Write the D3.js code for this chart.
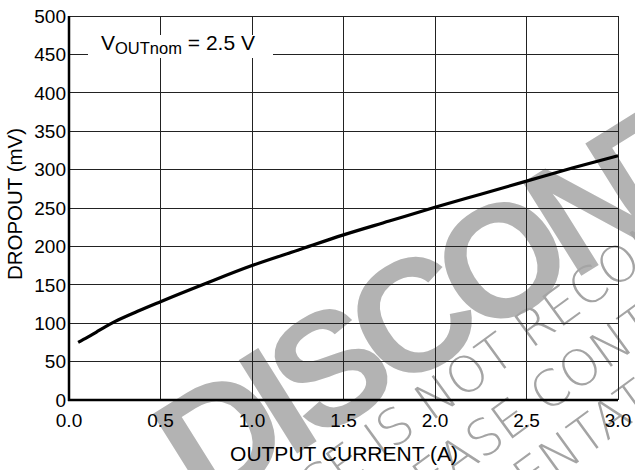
<!doctype html>
<html>
<head>
  <meta charset="utf-8">
  <title>Dropout vs Output Current</title>
  <style>
  body{
    margin: 0;
    background: #fff;
    font-family: "Liberation Sans", Arial, Helvetica, sans-serif;
  }
  svg text{
    font-family: "Liberation Sans", Arial, Helvetica, sans-serif;
  }
  svg text.note{
    font-family: "DejaVu Sans", sans-serif;
    font-weight: 200;
  }
  </style>
</head>
<body>
  <svg id="chart"></svg>

  <script src="https://d3js.org/d3.v7.min.js"></script>
  <script>
  var width = 635;
  var height = 470;
  var margin = { top: 16, right: 17, bottom: 70, left: 69 };

  var currentA  = [0.05, 0.1, 0.15, 0.2, 0.25, 0.375, 0.5, 0.75, 1.0, 1.25, 1.5, 1.75, 2.0, 2.25, 2.5, 2.75, 3.0];
  var dropoutMv = [75, 81.5, 88.5, 95.5, 102, 115.5, 128, 152, 175, 195, 215, 233, 251, 268, 285, 302, 318];

  var xTicks = [0, 0.5, 1.0, 1.5, 2.0, 2.5, 3.0];
  var yTicks = [0, 50, 100, 150, 200, 250, 300, 350, 400, 450, 500];

  var xTitle = 'OUTPUT CURRENT (A)';
  var yTitle = 'DROPOUT (mV)';
  var watermark = 'DISCONTINUED';
  var noteLines = [
    'THIS DEVICE IS NOT RECOMMENDED FOR NEW DESIGN',
    'PLEASE CONTACT YOUR ON SEMICONDUCTOR',
    'REPRESENTATIVE FOR INFORMATION'
  ];

  var svg = d3.select('#chart')
    .attr('width', width)
    .attr('height', height);

  var x = d3.scaleLinear().domain([0, 3]).range([margin.left, width - margin.right]);
  var y = d3.scaleLinear().domain([0, 500]).range([height - margin.bottom, margin.top]);

  // watermark behind everything
  var wm = svg.append('g');
  wm.append('text')
    .attr('transform', 'translate(202,513) rotate(-32)')
    .attr('font-size', 160)
    .attr('font-weight', 'bold')
    .attr('letter-spacing', -14)
    .attr('fill', '#b3b3b3')
    .text(watermark);

  // put the char at idx on (px,py)
  function noteLine(str, idx, px, py){
    var t = wm.append('text')
      .attr('class', 'note')
      .attr('font-size', 50)
      .attr('fill', '#a4a4a4')
      .text(str);
    var p = t.node().getStartPositionOfChar(idx);
    t.attr('x', -p.x)
      .attr('transform', 'translate(' + px + ',' + py + ') rotate(-36)');
  }
  noteLine(noteLines[0], noteLines[0].indexOf('NOT'), 431, 422);
  noteLine(noteLines[1], noteLines[1].indexOf('CONTACT'), 546, 414);
  noteLine(noteLines[2], noteLines[2].indexOf('NTATIVE'), 555, 479);

  // grid
  var grid = svg.append('g').attr('stroke', '#222').attr('stroke-width', 1).attr('shape-rendering', 'crispEdges');
  grid.selectAll('.vx').data(xTicks.slice(1)).enter().append('line')
    .attr('x1', function(d){ return x(d); })
    .attr('x2', function(d){ return x(d); })
    .attr('y1', y(0))
    .attr('y2', y(500));
  grid.selectAll('.hy').data(yTicks.slice(1)).enter().append('line')
    .attr('x1', x(0))
    .attr('x2', x(3))
    .attr('y1', function(d){ return y(d); })
    .attr('y2', function(d){ return y(d); });

  // legend label with white box
  svg.append('rect')
    .attr('x', 88).attr('y', 35)
    .attr('width', 185).attr('height', 23)
    .attr('fill', '#fff');
  var lbl = svg.append('text')
    .attr('x', 101)
    .attr('y', 50)
    .attr('font-size', 21)
    .attr('fill', '#000');
  lbl.append('tspan').text('V');
  lbl.append('tspan').attr('font-size', 16.5).attr('dy', 4).text('OUTnom');
  lbl.append('tspan').attr('dy', -4).text(' = 2.5 V');

  // axes lines: left & bottom thick
  svg.append('line')
    .attr('x1', x(0)).attr('x2', x(0))
    .attr('y1', y(0) + 1).attr('y2', y(500))
    .attr('stroke', '#000').attr('stroke-width', 2.5);
  svg.append('line')
    .attr('x1', x(0) - 1).attr('x2', x(3))
    .attr('y1', y(0)).attr('y2', y(0))
    .attr('stroke', '#000').attr('stroke-width', 2.5);

  // tick labels
  svg.selectAll('.xl').data(xTicks).enter().append('text')
    .attr('x', function(d){ return x(d); })
    .attr('y', 427)
    .attr('text-anchor', 'middle')
    .attr('font-size', 19)
    .text(function(d){ return d3.format('.1f')(d); });
  svg.selectAll('.yl').data(yTicks).enter().append('text')
    .attr('x', x(0) - 3)
    .attr('y', function(d){ return y(d); })
    .attr('dy', '0.36em')
    .attr('text-anchor', 'end')
    .attr('font-size', 19)
    .text(function(d){ return d; });

  // titles
  svg.append('text')
    .attr('x', 344)
    .attr('y', 461)
    .attr('text-anchor', 'middle')
    .attr('font-size', 21)
    .text(xTitle);
  svg.append('text')
    .attr('transform', 'translate(22,204) rotate(-90)')
    .attr('text-anchor', 'middle')
    .attr('font-size', 20.5)
    .text(yTitle);

  // curve
  var line = d3.line()
    .x(function(d, i){ return x(currentA[i]); })
    .y(function(d){ return y(d); })
    .curve(d3.curveMonotoneX);
  svg.append('path')
    .datum(dropoutMv)
    .attr('d', line)
    .attr('fill', 'none')
    .attr('stroke', '#000')
    .attr('stroke-width', 3.2);
  </script>
</body>
</html>
